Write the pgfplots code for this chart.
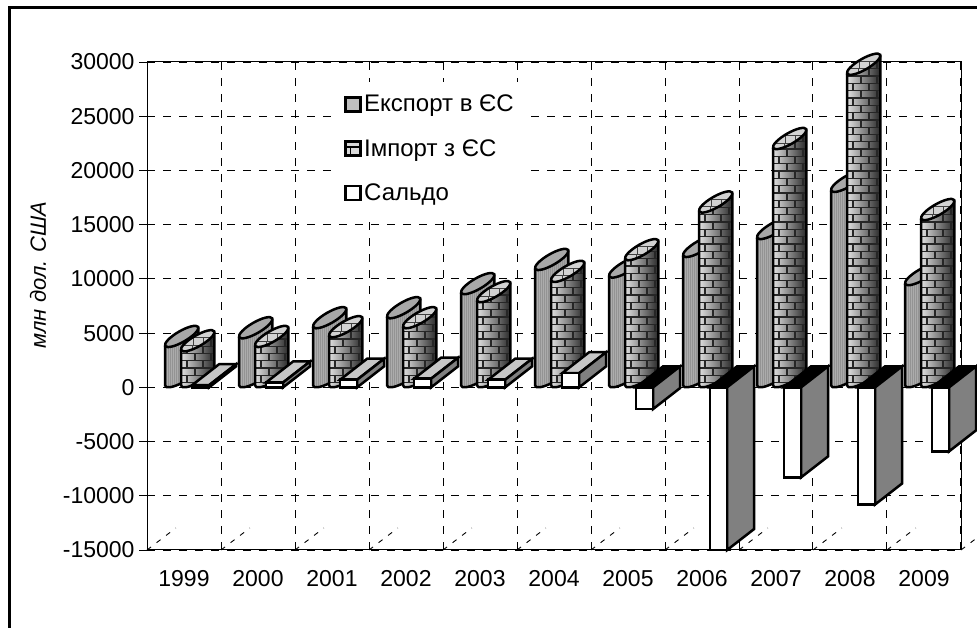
\documentclass[border=0pt]{standalone}
\usepackage{fontspec}
\setmainfont{Liberation Sans}
\usepackage{pgfplots}
\usepackage{pgfplotstable}
\pgfplotsset{compat=1.18}
\newcommand\ff{\fontsize{23}{26}\selectfont}
\pgfdeclareplotmark{nil}{}
\newcommand\tohgt[2]{\begingroup\pgfkeys{/pgf/fpu=true,/pgf/fpu/output format=fixed}\pgfmathparse{#1*0.010844}\xdef#2{\pgfmathresult}\endgroup}
\pgfplotstableread{
year val
1999 3900
2000 4700
2001 5630
2002 6550
2003 8770
2004 11000
2005 10300
2006 12200
2007 13850
2008 18200
2009 9600
}\exporttable
\pgfplotstableread{
year val
1999 3500
2000 3900
2001 4800
2002 5630
2003 8030
2004 9900
2005 11900
2006 16300
2007 22150
2008 29000
2009 15600
}\importtable
\pgfplotstableread{
year val
1999 200
2000 450
2001 700
2002 800
2003 700
2004 1300
2005 -2000
2006 -15000
2007 -8300
2008 -10800
2009 -5900
}\saldotable
\pgfplotstableread{
x y
1998.5 -15000
1998.89 -12971
nan nan
1999.5 -15000
1999.89 -12971
nan nan
2000.5 -15000
2000.89 -12971
nan nan
2001.5 -15000
2001.89 -12971
nan nan
2002.5 -15000
2002.89 -12971
nan nan
2003.5 -15000
2003.89 -12971
nan nan
2004.5 -15000
2004.89 -12971
nan nan
2005.5 -15000
2005.89 -12971
nan nan
2006.5 -15000
2006.89 -12971
nan nan
2007.5 -15000
2007.89 -12971
nan nan
2008.5 -15000
2008.89 -12971
nan nan
2009.5 -15000
2009.89 -12971
}\floortable
% body path of a slanted cylinder; origin = left end of the top ellipse
\def\cylbody#1{(0pt,0pt) -- (0pt,-#1pt) \pgfextra{\pgfpatharcaxes{170.5}{350.5}{\pgfqpoint{16.45pt}{9.5pt}}{\pgfqpoint{-2.75pt}{4.76pt}}} -- (33.4pt,17.2pt) -- cycle}
\def\cylell{(16.7pt,8.6pt) ellipse[x radius=19pt,y radius=5.5pt,rotate=30]}
\newcommand\exportbar[1]{%
  \tohgt{#1}\hh
  \pgfmathsetmacro\H{max(\hh-2,1)}%
    \begin{scope}
      \clip \cylbody{\H};
      \shade[left color=gray!62,middle color=gray!35,right color=gray!75] (-2pt,-\H pt-25pt) rectangle (36pt,20pt);
      \foreach \i in {1,3,...,33}{\draw[gray!85,line width=0.6pt] (\i pt,-\H pt-25pt) -- (\i pt,20pt);}
    \end{scope}
    \draw[line width=2.5pt,line join=round] \cylbody{\H};
    \draw[line width=2.5pt,fill=gray!68] \cylell;
  }
\newcommand\importbar[1]{%
  \tohgt{#1}\hh
  \pgfmathsetmacro\H{max(\hh-2,1)}%
  \pgfmathtruncatemacro\nrows{(\H+30)/7.3}%
    \begin{scope}
      \clip \cylbody{\H};
      \shade[left color=gray!15,middle color=gray!55,right color=black!90] (-2pt,-\H pt-25pt) rectangle (36pt,20pt);
      \foreach \r in {0,...,\nrows}{%
        \pgfmathsetmacro\yy{-\H-12+\r*7.3}%
        \pgfmathsetmacro\sh{mod(\r,2)*8}%
        \pgfmathsetmacro\va{6+\sh}\pgfmathsetmacro\vb{22+\sh}%
        \draw[black!85,line width=1.3pt] (0pt,\yy pt) -- (36pt,\yy pt)
           (\va pt,\yy pt) -- (\va pt,\yy pt+7.3pt) (\vb pt,\yy pt) -- (\vb pt,\yy pt+7.3pt);
      }
    \end{scope}
    \draw[line width=2.5pt,line join=round] \cylbody{\H};
    \fill[gray!35] \cylell;
    \begin{scope}
      \clip \cylell;
      \draw[black!75,line width=1pt] (-2pt,4pt) -- (36pt,4pt) (-2pt,11.5pt) -- (36pt,11.5pt)
        (11pt,-2pt) -- (11pt,4pt) (22pt,4pt) -- (22pt,11.5pt) (12pt,4pt)--(12pt,11.5pt);
    \end{scope}
    \draw[line width=2.5pt] \cylell;
  }
\newcommand\saldobar[1]{%
  \pgfmathsetmacro\h{abs(#1)*0.010844}%
  \ifdim #1pt>0pt
    \def\yb{-\h}\def\yt{0}\def\topc{gray!45}%
  \else
    \def\yb{0}\def\yt{\h}\def\topc{black}%
  \fi
  \begin{scope}[line width=2.5pt,line join=miter]
    \draw[fill=\topc] (0pt,\yt pt) -- (27pt,\yt pt+21pt) -- (44pt,\yt pt+21pt) -- (17pt,\yt pt) -- cycle;
    \draw[fill=gray] (17pt,\yb pt) -- (44pt,\yb pt+21pt) -- (44pt,\yt pt+21pt) -- (17pt,\yt pt) -- cycle;
    \draw[fill=white] (0pt,\yb pt) rectangle (17pt,\yt pt);
  \end{scope}}
\begin{document}
\begin{tikzpicture}
\draw[line width=3pt,black] (9pt,-5pt) -- (9pt,620pt) -- (985pt,620pt);
\begin{axis}[
  at={(147pt,78pt)},anchor=south west,
  scale only axis,width=814pt,height=488pt,
  xmin=1998.5,xmax=2009.5,ymin=-15000,ymax=30000,
  clip=false,set layers,
  xtick={1999,2000,...,2009},
  minor xtick={1998.5,1999.5,...,2009.5},
  ytick={-15000,-10000,...,30000},
  scaled y ticks=false,scaled x ticks=false,
  xtick pos=bottom,ytick pos=left,
  tick align=outside,
  x tick style={draw=none},minor x tick style={draw=none},
  y tick style={black,line width=0.9pt},
  major tick length=8pt,minor tick length=0pt,
  xmajorgrids=false,xminorgrids=true,ymajorgrids=true,
  grid style={black,line width=0.9pt,dash pattern=on 8pt off 8pt},
  minor grid style={black,line width=0.9pt,dash pattern=on 8pt off 8pt},
  axis line style={black,line width=1pt},
  /pgf/number format/1000 sep={},
  /pgf/number format/assume math mode=true,
  tick label style={font=\ff},
  yticklabel style={xshift=-1pt},
  xticklabel style={yshift=-9pt},
  ylabel={\itshape млн дол. США},
  ylabel style={font=\fontsize{22}{26}\selectfont,at={(axis description cs:-0.134,0.5635)},anchor=center},
  legend style={at={(186pt,468pt)},anchor=north west,draw=none,fill=white,font=\fontsize{24}{27}\selectfont,
     row sep=22pt,inner xsep=11pt,inner ysep=11pt,nodes={inner sep=2pt}},
  legend cell align=left,
]
\addplot[forget plot,black,line width=0.9pt,dash pattern=on 5pt off 7pt,unbounded coords=jump] table[x=x,y=y] {\floortable};

\addlegendimage{legend image code/.code={\draw[line width=2.5pt,fill=gray!50] (0pt,-7pt) rectangle (15pt,7pt);}}
\addlegendentry{Експорт в ЄС}
\addlegendimage{legend image code/.code={\draw[line width=2.5pt,fill=gray!30] (0pt,-7pt) rectangle (15pt,7pt); \draw[line width=1.5pt] (0pt,1.5pt)--(15pt,1.5pt) (5pt,1.5pt)--(5pt,-7pt); \draw[line width=3pt] (0pt,-7pt)--(15pt,-7pt);}}
\addlegendentry{Імпорт з ЄС}
\addlegendimage{legend image code/.code={\draw[line width=2.5pt,fill=white] (0pt,-7pt) rectangle (15pt,7pt);}}
\addlegendentry{Сальдо}

\addplot[forget plot,only marks,mark=nil,scatter,scatter src=y,
  visualization depends on=rawy\as\rawv,
  scatter/@pre marker code/.code={\exportbar{\rawv}\scope},
  scatter/@post marker code/.code={\endscope}]
  table[x expr=\thisrow{year}-0.2568,y=val] {\exporttable};
\addplot[forget plot,only marks,mark=nil,scatter,scatter src=y,
  visualization depends on=rawy\as\rawv,
  scatter/@pre marker code/.code={\importbar{\rawv}\scope},
  scatter/@post marker code/.code={\endscope}]
  table[x expr=\thisrow{year}-0.0405,y=val] {\importtable};
\addplot[forget plot,only marks,mark=nil,scatter,scatter src=y,
  visualization depends on=rawy\as\rawv,
  scatter/@pre marker code/.code={\saldobar{\rawv}\scope},
  scatter/@post marker code/.code={\endscope}]
  table[x expr=\thisrow{year}+0.11,y=val] {\saldotable};
\end{axis}
\pgfresetboundingbox
\useasboundingbox (0pt,0pt) rectangle (977pt,628pt);
\end{tikzpicture}
\end{document}
